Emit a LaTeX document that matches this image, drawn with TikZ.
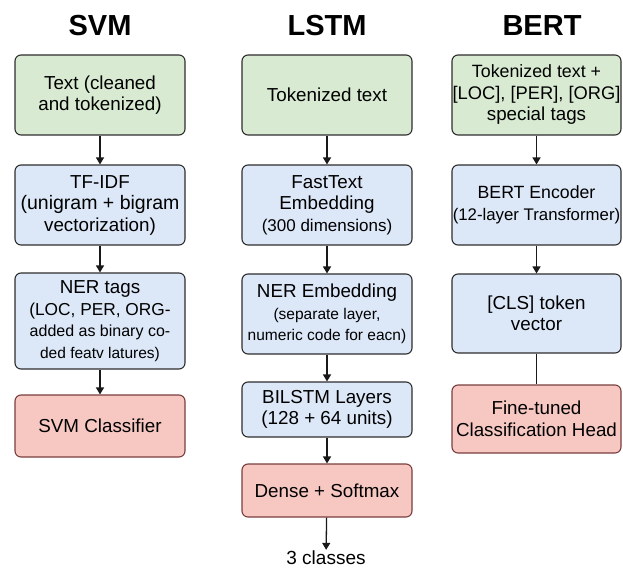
\documentclass[tikz,border=0pt]{standalone}
\usepackage{fontspec}
\setmainfont{Liberation Sans}
\usetikzlibrary{arrows.meta}
\definecolor{gfill}{HTML}{D8EAD2}
\definecolor{bfill}{HTML}{DCE7F8}
\definecolor{rfill}{HTML}{F7C8C2}
\definecolor{bord}{HTML}{2E2E2E}
\definecolor{rbord}{HTML}{7A3E3E}
\tikzset{
  box/.style={draw=bord, line width=1.1pt, rounded corners=6pt, minimum width=170pt, align=center, inner sep=0pt, font=\fontsize{18.8}{21.5}\selectfont},
  gbox/.style={box, fill=gfill},
  bbox/.style={box, fill=bfill},
  rbox/.style={box, fill=rfill, draw=rbord},
  ttl/.style={font=\fontsize{29}{30}\selectfont\bfseries},
  arr/.style={draw=black!90, line width=1.3pt, -{Triangle[length=7pt,width=8pt]}},
  ln/.style={draw=black!90, line width=1.3pt},
}
\begin{document}
\begin{tikzpicture}[x=1pt,y=-1pt]
\useasboundingbox[fill=white] (0,0) rectangle (623,569);
% titles
\node[ttl] (t1) at (100,26) {SVM};
\node[ttl] (t2) at (327,26) {LSTM};
\node[ttl] (t3) at (542,26) {BERT};
% SVM column
\node[gbox, minimum height=80pt] (s1) at (100,95) {Text (cleaned\\and tokenized)};
\node[bbox, minimum height=80pt] (s2) at (100,205) {TF-IDF\\{\fontsize{19.5}{21.5}\selectfont(unigram + bigram}\\vectorization)};
\node[bbox, minimum height=96pt] (s3) at (100,321) {NER tags\\{\fontsize{17.3}{21}\selectfont(LOC, PER, ORG-}\\{\fontsize{16}{21}\selectfont added as binary co-}\\{\fontsize{15.5}{21}\selectfont ded featv latures)}};
\node[rbox, minimum height=62pt] (s4) at (100,426) {SVM Classifier};
\draw[arr] (s1) -- (s2);
\draw[arr] (s2) -- (s3);
\draw[arr] (s3) -- (s4);
% LSTM column
\node[gbox, minimum height=80pt] (l1) at (327,95) {Tokenized text};
\node[bbox, minimum height=80pt] (l2) at (327,205) {FastText\\Embedding\\{\fontsize{17}{21.5}\selectfont(300 dimensions)}};
\node[bbox, minimum height=80pt] (l3) at (327,314) {NER Embedding\\{\fontsize{15.5}{21}\selectfont(separate layer,}\\{\fontsize{15.5}{21}\selectfont numeric code for eacn)}};
\node[bbox, minimum height=55pt] (l4) at (327,409.5) {BILSTM Layers\\(128 + 64 units)};
\node[rbox, minimum height=53pt] (l5) at (327,490.5) {Dense + Softmax};
\node[font=\fontsize{19}{21}\selectfont, inner sep=1pt] (l6) at (326,558) {3 classes};
\draw[arr] (l1) -- (l2);
\draw[arr] (l2) -- (l3);
\draw[arr] (l3) -- (l4);
\draw[arr] (l4) -- (l5);
\draw[arr] (l5) -- (l6);
% BERT column
\node[gbox, minimum height=80pt, minimum width=169pt] (b1) at (536.5,95) {{\fontsize{17.8}{21.5}\selectfont Tokenized text +}\\{\fontsize{18.3}{21.5}\selectfont [LOC], [PER], [ORG]}\\special tags};
\node[bbox, minimum height=80pt, minimum width=169pt] (b2) at (536.5,205) {{\fontsize{17.7}{21.5}\selectfont BERT Encoder}\\{\fontsize{16.8}{21.5}\selectfont (12-layer Transformer)}};
\node[bbox, minimum height=79pt, minimum width=169pt] (b3) at (536.5,313.5) {[CLS] token\\vector};
\node[rbox, minimum height=68pt, minimum width=169pt] (b4) at (536.5,419) {Fine-tuned\\Classification Head};
\draw[arr] (b1) -- (b2);
\draw[arr] (b2) -- (b3);
\draw[ln] (b3) -- (b4);
\end{tikzpicture}
\end{document}
